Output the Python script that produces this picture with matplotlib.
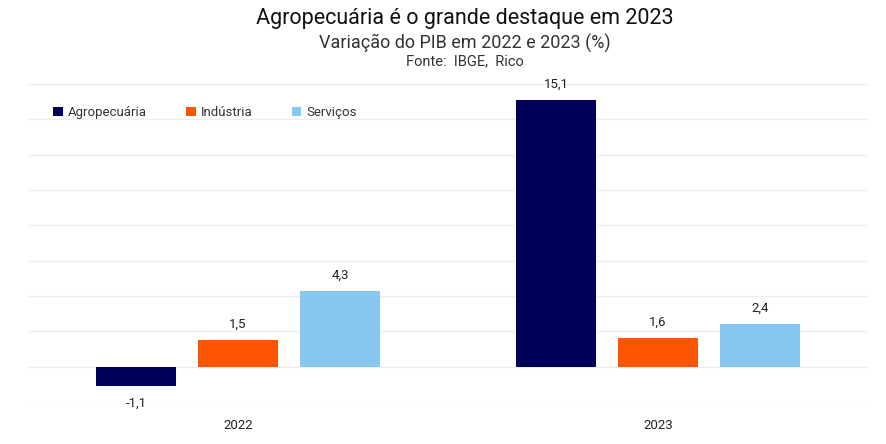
import matplotlib.pyplot as plt
import numpy as np

plt.rcParams["font.family"] = ["Roboto", "DejaVu Sans"]

years = ["2022", "2023"]
series = ["Agropecuária", "Indústria", "Serviços"]
agro = [-1.1, 15.1]
industria = [1.5, 1.6]
servicos = [4.3, 2.4]
colors = ["#00005A", "#FF5500", "#88C8F0"]

fig = plt.figure(figsize=(8.86, 4.44), dpi=100)
ax = fig.add_axes([28 / 886, 42 / 444, 840 / 886, 318 / 444])

x = np.arange(len(years))
width = 0.19
step = 0.243
for i, (name, vals, c) in enumerate(zip(series, [agro, industria, servicos], colors)):
    pos = x + (i - 1) * step
    ax.bar(pos, vals, width, color=c, label=name, zorder=2)
    for p, v in zip(pos, vals):
        label = f"{v:.1f}".replace(".", ",")
        off = 0.9 if v >= 0 else -0.95
        ax.text(p, v + off, label, ha="center", va="center", fontsize=9.5, color="#222222")

ax.set_xlim(-0.5, 1.5)
ax.set_ylim(-2, 16)
ax.set_yticks(np.arange(-2, 17, 2))
ax.yaxis.grid(True, color="#EEEEEE", linewidth=1, zorder=0)
ax.tick_params(axis="y", left=False, labelleft=False)
ax.set_xticks(x)
ax.set_xticklabels(years, fontsize=9.5, color="#222222")
ax.tick_params(axis="x", length=0, pad=12)
for s in ax.spines.values():
    s.set_visible(False)

leg = ax.legend(loc="upper left", bbox_to_anchor=(0.016, 0.968), ncol=3, frameon=False,
                fontsize=9.5, handlelength=0.7, handleheight=0.7, handletextpad=0.4,
                columnspacing=3.0)
for t in leg.get_texts():
    t.set_color("#333333")

cx = 465 / 886
fig.text(cx, 0.958, "Agropecuária é o grande destaque em 2023", ha="center", va="center",
         fontsize=15.5, color="#111111")
fig.text(cx, 0.903, "Variação do PIB em 2022 e 2023 (%)", ha="center", va="center",
         fontsize=13, color="#333333")
fig.text(cx, 0.862, "Fonte:  IBGE,  Rico", ha="center", va="center",
         fontsize=10.5, color="#333333")

fig.savefig("out.png", dpi=100)
